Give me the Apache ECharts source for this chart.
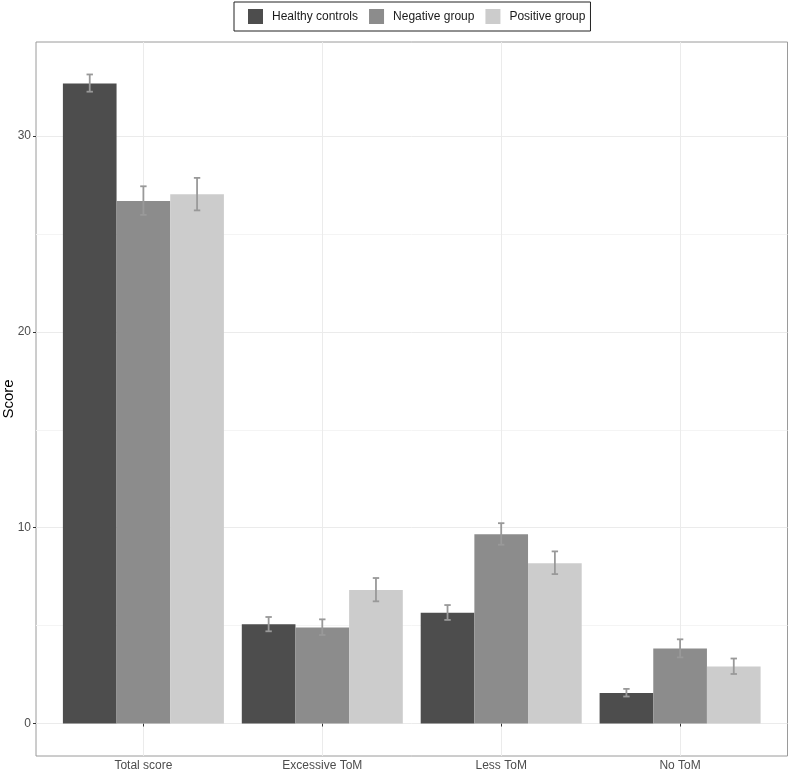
<!DOCTYPE html>
<html>
<head>
<meta charset="utf-8">
<script src="https://cdn.jsdelivr.net/npm/echarts@6/dist/echarts.min.js"></script>
<style>
  html, body { margin: 0; padding: 0; background: #fff; }
  #chart { width: 790px; height: 772px; }
</style>
</head>
<body>
<div id="chart"></div>
<script>
  // categories and groups
  const categories = ['Total score', 'Excessive ToM', 'Less ToM', 'No ToM'];
  const groups = ['Healthy controls', 'Negative group', 'Positive group'];

  // mean scores
  const healthy = [32.68, 5.07, 5.66, 1.56];
  const negative = [26.68, 4.91, 9.66, 3.83];
  const positive = [27.02, 6.82, 8.19, 2.91];

  // error bar ends
  const healthyLow = [32.26, 4.71, 5.29, 1.38];
  const healthyHigh = [33.14, 5.44, 6.05, 1.77];
  const negativeLow = [25.97, 4.52, 9.13, 3.38];
  const negativeHigh = [27.43, 5.32, 10.23, 4.30];
  const positiveLow = [26.20, 6.24, 7.63, 2.53];
  const positiveHigh = [27.86, 7.43, 8.79, 3.32];

  // y ticks
  const majorTicks = [0, 10, 20, 30];
  const minorTicks = [5, 15, 25];

  const colors = ['#4d4d4d', '#8c8c8c', '#cccccc'];
  const means = [healthy, negative, positive];
  const lows = [healthyLow, negativeLow, positiveLow];
  const highs = [healthyHigh, negativeHigh, positiveHigh];

  const topVal = Math.max(...healthyHigh, ...negativeHigh, ...positiveHigh);
  const yMin = -topVal * 0.05;
  const yMax = topVal * 1.05;

  const barW = 53.67;
  const font = 'Liberation Sans, Arial, sans-serif';

  const chart = echarts.init(document.getElementById('chart'));

  const barSeries = groups.map((g, i) => ({
    name: g,
    type: 'bar',
    xAxisIndex: 1,
    yAxisIndex: 2,
    barWidth: barW,
    barGap: '0%',
    clip: false,
    itemStyle: { color: colors[i] },
    data: means[i],
  }));

  const errSeries = groups.map((g, i) => ({
    type: 'custom',
    xAxisIndex: 1,
    yAxisIndex: 2,
    clip: false,
    z: 5,
    data: categories.map((c, k) => [k, lows[i][k], highs[i][k]]),
    renderItem: function (params, api) {
      const lo = api.coord([api.value(0), api.value(1)]);
      const hi = api.coord([api.value(0), api.value(2)]);
      const x = lo[0] + (i - 1) * barW;
      const half = 3.2;
      const style = { stroke: '#999999', lineWidth: 1.8 };
      return {
        type: 'group',
        children: [
          { type: 'line', shape: { x1: x, y1: lo[1], x2: x, y2: hi[1] }, style: style },
          { type: 'line', shape: { x1: x - half, y1: lo[1], x2: x + half, y2: lo[1] }, style: style },
          { type: 'line', shape: { x1: x - half, y1: hi[1], x2: x + half, y2: hi[1] }, style: style },
        ],
      };
    },
  }));

  const option = {
    animation: false,
    textStyle: { fontFamily: font },
    legend: {
      data: groups,
      left: 234,
      top: 2,
      icon: 'rect',
      itemWidth: 15,
      itemHeight: 15,
      itemGap: 11,
      padding: [7, 5, 7, 14],
      borderColor: '#222',
      borderWidth: 1,
      selectedMode: false,
      textStyle: { fontSize: 12, color: '#1a1a1a', fontFamily: font, padding: [0, 0, 0, 4] },
    },
    grid: [
      { left: 36, top: 42, width: 751.5, height: 714, outerBoundsMode: 'none', containLabel: false, show: true, borderColor: '#9a9a9a', borderWidth: 1, backgroundColor: 'transparent' },
      { left: 143.4, top: 42, width: 536.7, height: 714, outerBoundsMode: 'none', containLabel: false },
    ],
    xAxis: [
      { type: 'value', gridIndex: 0, show: false, min: 0, max: 1 },
      {
        type: 'category',
        gridIndex: 1,
        data: categories,
        boundaryGap: false,
        axisLine: { show: false },
        axisTick: { show: true, length: 3, lineStyle: { color: '#333' } },
        axisLabel: { color: '#4d4d4d', fontSize: 12, margin: 4, interval: 0, fontFamily: font },
        splitLine: { show: true, interval: 0, lineStyle: { color: '#ebebeb', width: 1 } },
      },
    ],
    yAxis: [
      {
        type: 'value',
        gridIndex: 0,
        position: 'left',
        min: yMin,
        max: yMax,
        name: 'Score',
        nameLocation: 'middle',
        nameGap: 20,
        nameMoveOverlap: false,
        nameTextStyle: { fontSize: 15, color: '#000', fontFamily: font },
        axisLine: { show: false },
        axisTick: { show: true, length: 3, customValues: majorTicks, lineStyle: { color: '#333' } },
        axisLabel: { color: '#4d4d4d', fontSize: 12, margin: 5, customValues: majorTicks, fontFamily: font },
        splitLine: { show: true, lineStyle: { color: '#ebebeb', width: 1 } },
      },
      {
        type: 'value',
        gridIndex: 0,
        position: 'left',
        min: yMin,
        max: yMax,
        axisLine: { show: false },
        axisTick: { show: false, customValues: minorTicks },
        axisLabel: { show: false, customValues: minorTicks },
        splitLine: { show: true, lineStyle: { color: '#f4f4f4', width: 1 } },
      },
      { type: 'value', gridIndex: 1, min: yMin, max: yMax, show: false, splitLine: { show: false } },
    ],
    series: barSeries.concat(errSeries),
  };

  chart.setOption(option);
</script>
</body>
</html>
